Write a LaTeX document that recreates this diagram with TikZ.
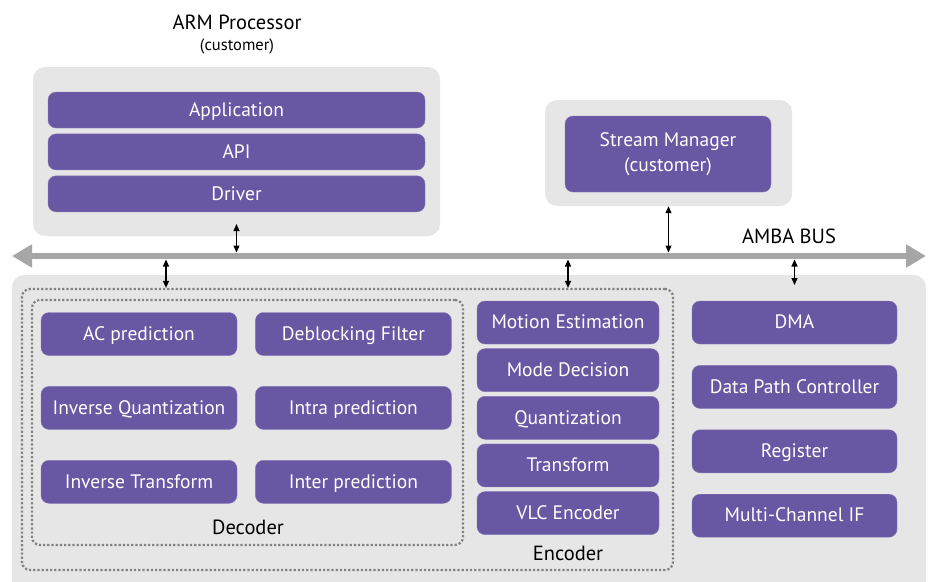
\documentclass[tikz,border=0pt]{standalone}
\usepackage{fontspec}
\setmainfont{PT Sans}
\usetikzlibrary{arrows.meta,positioning}

\definecolor{blkpurple}{RGB}{104,87,163}
\definecolor{panelgray}{RGB}{230,230,230}
\definecolor{busgray}{RGB}{166,166,166}
\definecolor{dotgray}{RGB}{130,130,130}

\begin{document}
\begin{tikzpicture}[x=1pt, y=-1pt, >=Stealth, font=\fontsize{19.5}{25}\selectfont]
\tikzstyle{panel}=[fill=panelgray, draw=none, rounded corners=12pt, inner sep=0pt]
\tikzstyle{blk}=[fill=blkpurple, draw=blkpurple!80!white, rounded corners=8pt, text=white, minimum height=43pt, align=center, inner sep=0pt, text height=12.5pt, text depth=0pt]
\tikzstyle{frame}=[draw=dotgray, line width=2.2pt, dash pattern=on 2.2pt off 2pt, rounded corners=8pt, inner sep=0pt]
\tikzstyle{link}=[{Triangle[length=7pt,width=6pt]}-{Triangle[length=7pt,width=6pt]}, line width=1.2pt, black]
\tikzstyle{label}=[font=\fontsize{20.5}{24}\selectfont, inner sep=0pt]

\fill[white] (0,0) rectangle (928,581);
\useasboundingbox (0,0) rectangle (928,581);
\clip (0,0) rectangle (928,581);

% ARM processor
\node[label]  (armt)  at (237,22)       {ARM Processor};
\node[inner sep=0pt, font=\fontsize{16.5}{19}\selectfont] (armc) at (237,46) {(customer)};
\node[panel, minimum width=407pt, minimum height=169pt] (arm) at (236.5,151.5) {};
\node[blk, minimum width=377pt, minimum height=36pt] (app) at (236.5,110) {Application};
\node[blk, minimum width=377pt, minimum height=36pt] (api)[below=5.5pt of app] {API};
\node[blk, minimum width=377pt, minimum height=36pt] (drv)[below=5.5pt of api] {Driver};

% stream manager
\node[panel, minimum width=247pt, minimum height=106pt] (smp) at (668.5,153) {};
\node[blk, text height=, text depth=, minimum width=206pt, minimum height=76pt] (sm) at (668,154) {Stream Manager\\(customer)};

% bus
\coordinate (busl) at (12,256);
\coordinate (busr) at (926,256);
\draw[{Triangle[length=20pt,width=22pt]}-{Triangle[length=20pt,width=22pt]}, busgray, line width=6pt] (busl) -- (busr);
\node[label] (amba) at (789,236) {AMBA BUS};

% system panel
\path[fill=panelgray, rounded corners=12pt] (12,275) rectangle (926,640);
\node[frame, minimum width=651pt, minimum height=281pt] (encfrm) at (347.5,429.5) {};
\node[frame, minimum width=431pt, minimum height=245pt] (decfrm) at (247.5,422.5) {};

% decoder
\node[blk, minimum width=196pt] (acp) at (139,334) {AC prediction};
\node[blk, minimum width=196pt] (dbf)[right=18pt of acp] {Deblocking Filter};
\node[blk, minimum width=196pt] (iq)[below=30.5pt of acp] {Inverse Quantization};
\node[blk, minimum width=196pt] (intra)[right=18pt of iq] {Intra prediction};
\node[blk, minimum width=196pt] (it)[below=30.5pt of iq] {Inverse Transform};
\node[blk, minimum width=196pt] (inter)[right=18pt of it] {Inter prediction};
\node[label] (dec) at (248,527) {Decoder};

% encoder
\node[blk, minimum width=182pt] (me) at (568,322.5) {Motion Estimation};
\node[blk, minimum width=182pt] (md)[below=4.25pt of me] {Mode Decision};
\node[blk, minimum width=182pt] (qt)[below=4.25pt of md] {Quantization};
\node[blk, minimum width=182pt] (tf)[below=4.25pt of qt] {Transform};
\node[blk, minimum width=182pt] (vlc)[below=4.25pt of tf] {VLC Encoder};
\node[label] (enc) at (568,553) {Encoder};

% peripherals
\node[blk, minimum width=205pt] (dma) at (794.5,322.5) {DMA};
\node[blk, minimum width=205pt] (dpc)[below=21pt of dma] {Data Path Controller};
\node[blk, minimum width=205pt] (reg)[below=21pt of dpc] {Register};
\node[blk, minimum width=205pt] (mcif)[below=21pt of reg] {Multi-Channel IF};

% bus taps
\coordinate (tap) at (166,256);
\draw[link, shorten >=3.5pt] ([yshift=-12pt]drv.south) -- (drv.south |- busl);
\draw[link, shorten >=3.5pt] (smp.south) -- (smp.south |- busl);
\draw[link, shorten <=3.5pt] (tap) -- (tap |- encfrm.north);
\draw[link, shorten <=3.5pt] (me.north |- busl) -- (me.north |- encfrm.north);
\draw[link, shorten <=3.5pt] (dma.north |- busl) -- ++(0,29);

\end{tikzpicture}
\end{document}
